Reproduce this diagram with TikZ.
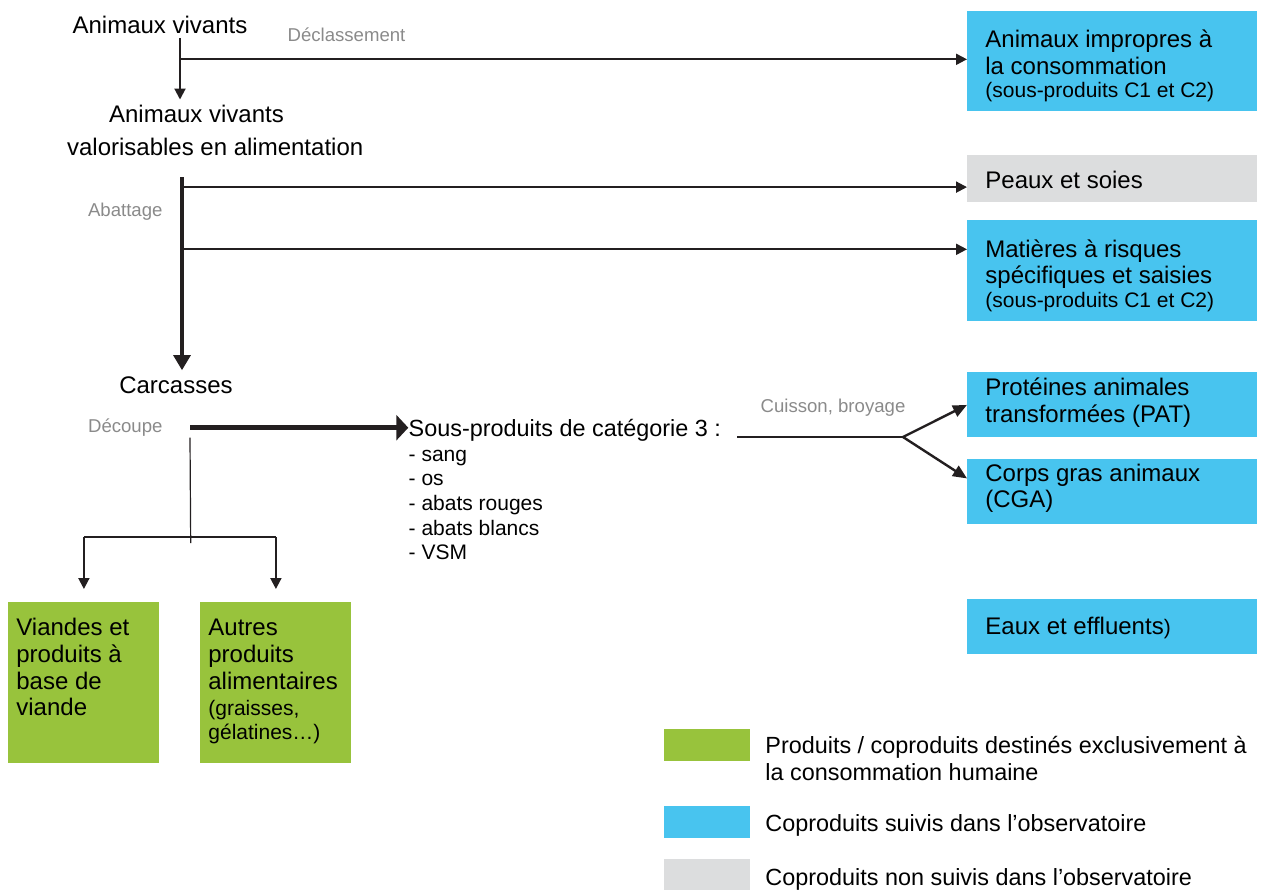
\documentclass[tikz,border=0pt]{standalone}
\usepackage{fontspec}
\setmainfont{Liberation Sans}
\usetikzlibrary{arrows.meta}

\definecolor{obsblue}{HTML}{48C4EF}
\definecolor{foodgreen}{HTML}{98C33C}
\definecolor{nonobsgray}{HTML}{DCDDDE}
\definecolor{stepgray}{HTML}{8A8A8A}
\definecolor{ink}{HTML}{231F20}

\newcommand{\subline}[1]{{\fontsize{10.5}{12}\selectfont #1}}

\tikzset{
  obs/.style      ={fill=obsblue, anchor=north west, text width=127pt, align=flush left,
                    inner xsep=9pt, inner ysep=0pt},
  nonobs/.style   ={obs, fill=nonobsgray},
  food/.style     ={fill=foodgreen, anchor=north west, text width=67.5pt, align=flush left,
                    inner xsep=4pt, inner ysep=0pt, text height=16.5pt, text depth=64pt},
  keybox/.style   ={anchor=north west, minimum width=43pt, minimum height=16pt, inner sep=0pt},
  keytext/.style  ={anchor=base west, font=\fontsize{11.7}{13.4}\selectfont},
  stage/.style    ={text=stepgray, font=\fontsize{9.3}{11}\selectfont},
  flow/.style     ={draw=ink, line width=1pt, -{Triangle[length=5.5pt,width=5.5pt]}},
  trunk/.style    ={draw=ink, line width=1.6pt, -{Triangle[length=7.5pt,width=8.5pt]}},
  cutflow/.style  ={draw=ink, line width=2.4pt, -{Triangle[length=6pt,width=12.5pt]}},
  forkflow/.style ={draw=ink, line width=1.2pt, -{Triangle[length=7pt,width=6pt]}},
  branch/.style   ={draw=ink, line width=0.6pt}
}

\begin{document}
\begin{tikzpicture}[x=0.5pt, y=-0.5pt, every node/.style={font=\fontsize{12}{13.4}\selectfont, inner sep=0pt}]
    \useasboundingbox (0,0) rectangle (1264,890);

    % live animals, downgrading
    \node[anchor=base] (vivants) at (160,33.3) {Animaux vivants};
    \node[stage, anchor=base] (declasslbl) at (346.5,41.7) {Déclassement};
    \node[anchor=base west, text width=150pt, align=flush left, font=\fontsize{12}{16.4}\selectfont]
        (valoris) at (66.7,122.3) {\hspace*{21pt}Animaux vivants\\valorisables en alimentation};

    % slaughter
    \node[stage, anchor=base] (abatlbl) at (125.3,216.7) {Abattage};
    \node[anchor=base] (carcasses) at (176,393.3) {Carcasses};

    % cutting and category 3
    \node[stage, anchor=base] (decoupelbl) at (125.3,432.7) {Découpe};
    \node[anchor=base west, font=\fontsize{11.7}{13.4}\selectfont] (sp3) at (408.3,436.7) {Sous-produits de catégorie 3 :};
    \node[anchor=base west, text width=80pt, align=flush left, font=\fontsize{10.5}{12.35}\selectfont]
        (sp3list) at (408.3,461) {- sang\\- os\\- abats rouges\\- abats blancs\\- VSM};
    \node[stage, anchor=base] (cuissonlbl) at (833,412.3) {Cuisson, broyage};

    % coproducts (right column)
    \node[obs, text height=17.9pt, text depth=32.1pt] (impropres) at (967,11)
        {Animaux impropres à\\la consommation\\[-1.6pt]\subline{(sous-produits C1 et C2)}};
    \node[nonobs, text height=16.35pt, text depth=7.15pt] (peaux) at (967,155) {Peaux et soies};
    \node[obs, text height=18.35pt, text depth=31.9pt] (matieres) at (967,220)
        {Matières à risques\\spécifiques et saisies\\[-1.6pt]\subline{(sous-produits C1 et C2)}};
    \node[obs, text height=11.5pt, text depth=21pt] (pat) at (967,372)
        {Protéines animales\\transformées (PAT)};
    \node[obs, text height=10.85pt, text depth=21.65pt] (cga) at (967,459)
        {Corps gras animaux\\(CGA)};
    \node[obs, text height=17.85pt, text depth=10pt] (eaux) at (967,598.3)
        {Eaux et effluents\subline{)}};

    % food products
    \node[food] (viande) at (8,602) {Viandes et\\produits à\\base de\\viande};
    \node[food] (autres) at (200,602)
        {Autres\\produits\\alimentaires\\[-0.4pt]\subline{(graisses,}\\[-1.4pt]\subline{gélatines…)}};

    % junctions
    \coordinate (declass) at (180,59.3);
    \coordinate (abattage) at (182,177);
    \coordinate (cut) at (190,427.7);
    \coordinate (split) at (190.7,537);
    \coordinate (forkpt) at (903,437);
    \coordinate (peauxin) at ([yshift=-4.1pt]peaux.west);
    \coordinate (mrsin) at ([yshift=-14.65pt]matieres.north west);
    \coordinate (procstart) at ([xshift=8pt]sp3.east);

    % flows
    \draw[flow, shorten <=2pt, shorten >=2.5pt] (vivants.south -| declass) -- (valoris.north -| declass);
    \draw[flow] (declass) -- (declass -| impropres.west);
    \draw[trunk, shorten >=3pt] (abattage) -- (carcasses.north -| abattage);
    \draw[flow] (abattage |- peauxin) -- (peauxin);
    \draw[flow] (abattage |- mrsin) -- (mrsin);

    \draw[cutflow] (cut) -- (cut -| sp3.west);
    \draw[branch] ([yshift=-5pt]cut) -- ([yshift=-3pt]split);
    \draw[branch] (split -| viande.north) -- (split -| autres.north);
    \draw[flow] (split -| viande.north) -- ([yshift=6.5pt]viande.north);
    \draw[flow] (split -| autres.north) -- ([yshift=6.5pt]autres.north);

    \draw[branch] (procstart |- forkpt) -- (forkpt);
    \draw[forkflow] (forkpt) -- (pat.west);
    \draw[forkflow] (forkpt) -- ([yshift=6.75pt]cga.west);

    % legend
    \node[keybox, fill=foodgreen] (kfood) at (664,729) {};
    \node[keybox, fill=obsblue] (kobs) at (664,805.7) {};
    \node[keybox, fill=nonobsgray, minimum height=15.5pt] (knonobs) at (664,859) {};
    \node[keytext, text width=245pt, align=flush left] (tfood) at (765,753.3)
        {Produits / coproduits destinés exclusivement à\\la consommation humaine};
    \node[keytext] (tobs) at (765,831) {Coproduits suivis dans l’observatoire};
    \node[keytext] (tnonobs) at (765,885.7) {Coproduits non suivis dans l’observatoire};
\end{tikzpicture}
\end{document}
